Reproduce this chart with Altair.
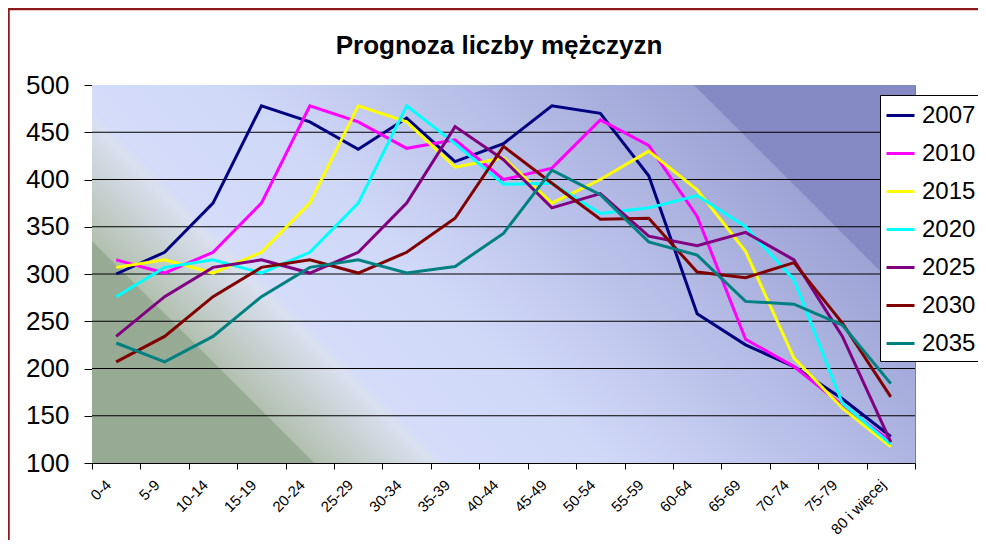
import altair as alt
import pandas as pd

categories = ["0-4", "5-9", "10-14", "15-19", "20-24", "25-29", "30-34", "35-39",
              "40-44", "45-49", "50-54", "55-59", "60-64", "65-69", "70-74", "75-79",
              "80 i więcej"]
years = ["2007", "2010", "2015", "2020", "2025", "2030", "2035"]
v2007 = [300, 323, 375, 478, 461, 432, 465, 419, 438, 478, 470, 404, 258, 225, 202, 168, 128]
v2010 = [315, 301, 323, 375, 478, 461, 433, 442, 400, 412, 463, 436, 361, 231, 202, 161, 123]
v2015 = [307, 315, 301, 323, 375, 478, 461, 413, 423, 375, 400, 430, 389, 324, 211, 158, 117]
v2020 = [276, 307, 315, 301, 323, 375, 478, 438, 395, 396, 364, 370, 383, 350, 294, 163, 120]
v2025 = [234, 276, 307, 315, 301, 323, 375, 456, 421, 370, 385, 340, 330, 344, 315, 234, 122]
v2030 = [207, 234, 276, 307, 315, 301, 323, 359, 435, 396, 358, 359, 302, 296, 312, 248, 170]
v2035 = [227, 207, 234, 276, 307, 315, 301, 308, 343, 410, 384, 334, 320, 271, 268, 246, 184]
series = [v2007, v2010, v2015, v2020, v2025, v2030, v2035]
colors = ["#000080", "#ff00ff", "#ffff00", "#00ffff", "#800080", "#800000", "#008080"]
widths = [3, 3, 2, 2, 3, 3, 3]
y_ticks = [100, 150, 200, 250, 300, 350, 400, 450, 500]
grid_values = [150, 200, 250, 300, 350, 400, 450]

rows = []
for yr, vals in zip(years, series):
    for c, v in zip(categories, vals):
        rows.append({"wiek": c, "rok": yr, "liczba": v})
df = pd.DataFrame(rows)

FONT = "Liberation Sans"
W, H = 823, 378

yscale = alt.Scale(domain=[100, 500], nice=False, zero=False)
xscale = alt.Scale(type="band", domain=categories, paddingInner=0, paddingOuter=0)
yaxis = alt.Axis(title=None, values=y_ticks, labelFontSize=26, labelFont=FONT,
                 labelColor="black", tickSize=8, tickColor="black", domainColor="black",
                 labelPadding=15, grid=False)

one = alt.Data(values=[{}])

frame = alt.Chart(one).mark_rect(filled=False, stroke="#8c1a1a", strokeWidth=2.5).encode(
    x=alt.value(-83.5), y=alt.value(-76), x2=alt.value(3000), y2=alt.value(3000)
)

grad = alt.Gradient(
    gradient="linear",
    x1=0, y1=1, x2=1.205, y2=0.446,
    stops=[
        alt.GradientStop(color="#97ab94", offset=0),
        alt.GradientStop(color="#97ab94", offset=0.184),
        alt.GradientStop(color="#b2c0b0", offset=0.186),
        alt.GradientStop(color="#dae0f0", offset=0.285),
        alt.GradientStop(color="#d4dcfa", offset=0.295),
        alt.GradientStop(color="#d0d8f8", offset=0.43),
        alt.GradientStop(color="#9da3d5", offset=0.815),
        alt.GradientStop(color="#8589c4", offset=0.817),
        alt.GradientStop(color="#8589c4", offset=1),
    ],
)
background = alt.Chart(one).mark_rect(color=grad).encode(
    x=alt.value(0), x2=alt.value("width"), y=alt.value(0), y2=alt.value("height")
)

grid = alt.Chart(pd.DataFrame({"g": grid_values})).mark_rule(color="black", strokeWidth=1).encode(
    y=alt.Y("g:Q", scale=yscale, axis=yaxis)
)

lines = alt.Chart(df).mark_line(strokeJoin="miter").encode(
    x=alt.X("wiek:N", scale=xscale, sort=categories, bandPosition=0.5,
            axis=alt.Axis(title=None, labelAngle=-45, labelFontSize=15, labelFont=FONT,
                          labelColor="black", tickBand="extent", tickSize=6, tickColor="black",
                          domainColor="black", labelPadding=8, labelOffset=-13, grid=False)),
    y=alt.Y("liczba:Q", scale=yscale, axis=yaxis),
    color=alt.Color("rok:N", scale=alt.Scale(domain=years, range=colors),
                    legend=alt.Legend(title=None)),
    strokeWidth=alt.StrokeWidth("rok:N", scale=alt.Scale(domain=years, range=widths),
                                legend=alt.Legend(title=None)),
    detail="rok:N",
)

chart = alt.layer(frame, background, grid, lines).properties(
    width=W, height=H,
    background="white",
    title=alt.TitleParams("Prognoza liczby mężczyzn", fontSize=26, font=FONT, fontWeight="bold",
                          color="black", anchor="middle", frame="group", baseline="alphabetic",
                          offset=-72, dx=-4.5),
    autosize=alt.AutoSizeParams(type="none"),
    padding={"left": 84, "top": 77, "right": 63, "bottom": 77},
).configure_view(stroke="#808080", strokeWidth=1).configure_legend(
    orient="none", legendX=788, legendY=10, fillColor="white", strokeColor="black",
    padding=5, symbolType="stroke", symbolSize=784, symbolStrokeWidth=3, rowPadding=10,
    labelFontSize=24, labelFont=FONT, labelColor="black", labelOffset=6, cornerRadius=0,
)

chart.save("out.html", embed_options={"renderer": "svg", "actions": False})
